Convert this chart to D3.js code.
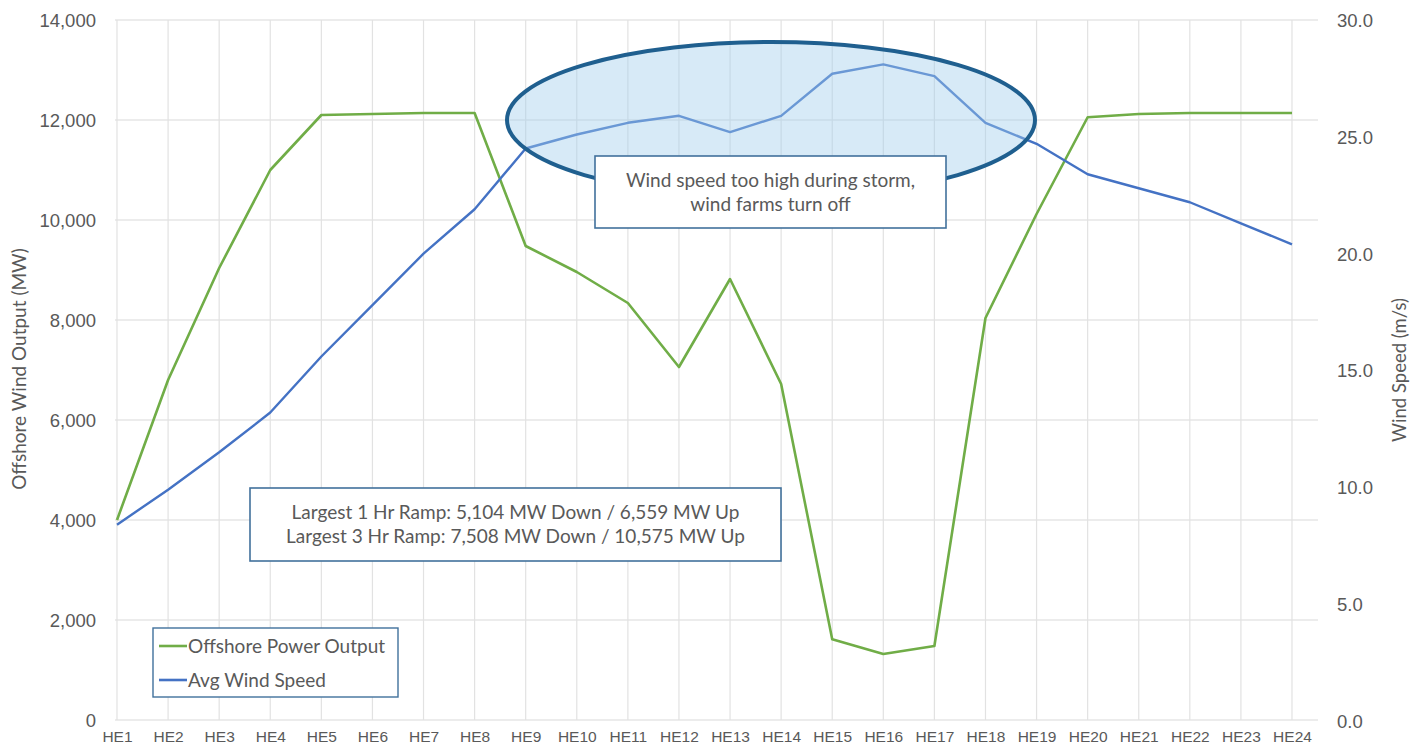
<!DOCTYPE html>
<html>
<head>
<meta charset="utf-8">
<script src="https://cdn.jsdelivr.net/npm/d3@7.9.0/dist/d3.min.js"></script>
<style>
  body { margin: 0; background: #fff; }
  svg { display: block; font-family: Lato, "Open Sans", sans-serif; }
</style>
</head>
<body>
<svg id="chart" width="1422" height="752"></svg>
<script>
// hours ending 1..24
const hours = d3.range(1, 25).map(h => "HE" + h);

// offshore wind output (MW)
const powerOutput = [
  4000, 6800, 9040, 11000, 12100, 12120, 12140, 12140,
  9480, 8960, 8340, 7060, 8820, 6720, 1616, 1320,
  1480, 8039, 10120, 12055, 12120, 12140, 12140, 12140
];

// average wind speed (m/s)
const windSpeed = [
  8.4, 9.9, 11.5, 13.2, 15.6, 17.8, 20.0, 21.9,
  24.5, 25.1, 25.6, 25.9, 25.2, 25.9, 27.7, 28.1,
  27.6, 25.6, 24.7, 23.4, 22.8, 22.2, 21.3, 20.4
];

const leftTicks = d3.range(0, 14001, 2000);
const rightTicks = [0, 5, 10, 15, 20, 25, 30];

const notes = [
  "Largest 1 Hr Ramp: 5,104 MW Down / 6,559 MW Up",
  "Largest 3 Hr Ramp: 7,508 MW Down / 10,575 MW Up"
];
const stormNote = ["Wind speed too high during storm,", "wind farms turn off"];

const green = "#70ad47";
const blue = "#4472c4";
const textGray = "#595959";
const boxBlue = "#41719c";

const svg = d3.select("#chart");

const x = d3.scalePoint().domain(hours).range([117, 1292]);
const yLeft = d3.scaleLinear().domain([0, 14000]).range([720, 20]);
const yRight = d3.scaleLinear().domain([0, 30]).range([721, 20]);

// gridlines
const grid = svg.append("g");
grid.selectAll("line.h")
  .data(leftTicks)
  .join("line")
  .attr("x1", 115).attr("x2", 1318)
  .attr("y1", d => yLeft(d)).attr("y2", d => yLeft(d))
  .attr("stroke", "#d9d9d9").attr("stroke-width", 1.2);
grid.selectAll("line.v")
  .data(hours)
  .join("line")
  .attr("class", "v")
  .attr("x1", d => x(d)).attr("x2", d => x(d))
  .attr("y1", 20).attr("y2", 720)
  .attr("stroke", "#e2e2e2").attr("stroke-width", 1.2);

// left axis labels
svg.append("g")
  .attr("transform", "translate(96,0)")
  .call(d3.axisLeft(yLeft).tickValues(leftTicks).tickSize(0).tickPadding(0).tickFormat(d3.format(",")))
  .call(g => g.select(".domain").remove())
  .call(g => g.selectAll("text").attr("fill", textGray).style("font-size", "18.5px").attr("dy", "0.35em"));

// right axis labels
svg.append("g")
  .attr("transform", "translate(1337,0)")
  .call(d3.axisRight(yRight).tickValues(rightTicks).tickSize(0).tickPadding(0).tickFormat(d3.format(".1f")))
  .call(g => g.select(".domain").remove())
  .call(g => g.selectAll("text").attr("fill", textGray).style("font-size", "18.5px").attr("dy", "0.35em"));

// x axis labels
svg.append("g")
  .attr("transform", "translate(0,737)")
  .call(d3.axisBottom(x).tickSize(0).tickPadding(0))
  .call(g => g.select(".domain").remove())
  .call(g => g.selectAll("text").attr("fill", textGray).style("font-size", "15.5px").attr("dy", "0.35em"));

// axis titles
svg.append("text")
  .attr("transform", "translate(26,369) rotate(-90)")
  .attr("text-anchor", "middle")
  .attr("fill", textGray)
  .style("font-size", "19px")
  .text("Offshore Wind Output (MW)");

svg.append("text")
  .attr("transform", "translate(1406,370) rotate(-90)")
  .attr("text-anchor", "middle")
  .attr("fill", textGray)
  .style("font-size", "18.5px")
  .text("Wind Speed (m/s)");

// lines
const powerLine = d3.line().x((d, i) => x(hours[i])).y(d => yLeft(d));
const windLine = d3.line().x((d, i) => x(hours[i])).y(d => yRight(d));

svg.append("path")
  .datum(powerOutput)
  .attr("d", powerLine)
  .attr("fill", "none")
  .attr("stroke", green)
  .attr("stroke-width", 2.6)
  .attr("stroke-linejoin", "round");

svg.append("path")
  .datum(windSpeed)
  .attr("d", windLine)
  .attr("fill", "none")
  .attr("stroke", blue)
  .attr("stroke-width", 2.4)
  .attr("stroke-linejoin", "round");

// storm ellipse
svg.append("ellipse")
  .attr("cx", 771).attr("cy", 120)
  .attr("rx", 264).attr("ry", 78)
  .attr("fill", "rgba(160, 205, 235, 0.42)")
  .attr("stroke", "#1f5f8f")
  .attr("stroke-width", 4);

// annotation boxes
function noteBox(x0, y0, w, h, lines) {
  const g = svg.append("g");
  g.append("rect")
    .attr("x", x0).attr("y", y0).attr("width", w).attr("height", h)
    .attr("fill", "#fff").attr("stroke", boxBlue).attr("stroke-width", 1.6);
  g.selectAll("text")
    .data(lines)
    .join("text")
    .attr("x", x0 + w / 2)
    .attr("y", (d, i) => y0 + h / 2 + (i - (lines.length - 1) / 2) * 24)
    .attr("dy", "0.35em")
    .attr("text-anchor", "middle")
    .attr("fill", textGray)
    .style("font-size", "19px")
    .text(d => d);
}

noteBox(595, 156, 351, 72, stormNote);
noteBox(250, 488, 531, 73, notes);

// legend
const legend = svg.append("g");
legend.append("rect")
  .attr("x", 153).attr("y", 628).attr("width", 245).attr("height", 69)
  .attr("fill", "#fff").attr("stroke", boxBlue).attr("stroke-width", 1.4);
const legendItems = [
  { name: "Offshore Power Output", color: green },
  { name: "Avg Wind Speed", color: blue }
];
legendItems.forEach((item, i) => {
  const yy = 646 + i * 34;
  legend.append("line")
    .attr("x1", 159).attr("x2", 187).attr("y1", yy).attr("y2", yy)
    .attr("stroke", item.color).attr("stroke-width", 2.6);
  legend.append("text")
    .attr("x", 188).attr("y", yy).attr("dy", "0.35em")
    .attr("fill", textGray)
    .style("font-size", "19px")
    .text(item.name);
});
</script>
</body>
</html>
